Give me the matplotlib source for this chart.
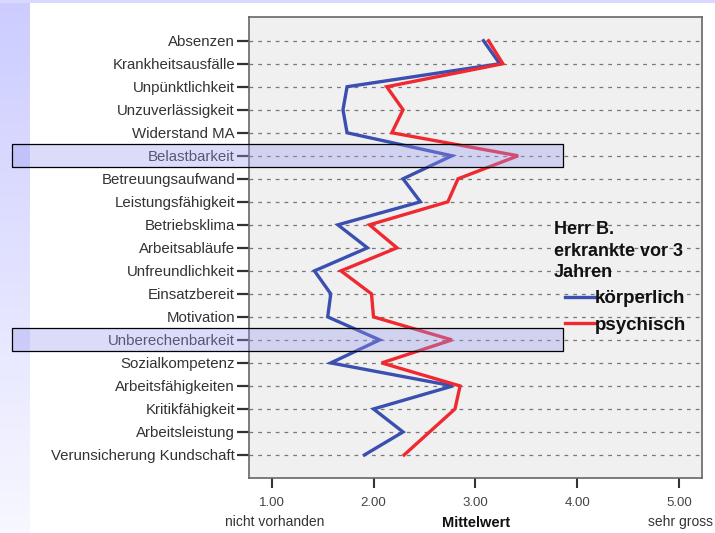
import numpy as np
import matplotlib
matplotlib.use("Agg")
import matplotlib.pyplot as plt
from matplotlib.patches import Rectangle
from matplotlib.transforms import blended_transform_factory

plt.rcParams['font.family'] = ['Liberation Sans', 'DejaVu Sans']

categories = ["Absenzen", "Krankheitsausfälle", "Unpünktlichkeit", "Unzuverlässigkeit",
              "Widerstand MA", "Belastbarkeit", "Betreuungsaufwand", "Leistungsfähigkeit",
              "Betriebsklima", "Arbeitsabläufe", "Unfreundlichkeit", "Einsatzbereit",
              "Motivation", "Unberechenbarkeit", "Sozialkompetenz", "Arbeitsfähigkeiten",
              "Kritikfähigkeit", "Arbeitsleistung", "Verunsicherung Kundschaft"]
koerperlich = [3.08, 3.24, 1.74, 1.70, 1.74, 2.77, 2.29, 2.46, 1.65, 1.94,
               1.42, 1.58, 1.55, 2.06, 1.58, 2.78, 2.00, 2.29, 1.91]
psychisch = [3.13, 3.27, 2.13, 2.29, 2.18, 3.42, 2.83, 2.73, 1.96, 2.23,
             1.68, 1.98, 2.00, 2.77, 2.08, 2.85, 2.80, 2.55, 2.30]
highlighted = ["Belastbarkeit", "Unberechenbarkeit"]
xticks = [1, 2, 3, 4, 5]
xticklabels = ["1.00", "2.00", "3.00", "4.00", "5.00"]
legend_title = "Herr B.\nerkrankte vor 3\nJahren"
series_names = ["körperlich", "psychisch"]

W, H = 715, 533
fig = plt.figure(figsize=(W / 100, H / 100), dpi=100)
fig.patch.set_facecolor("white")

# slide background: lavender strip on left and top
bg = fig.add_axes([0, 0, 1, 1], zorder=-10)
bg.set_axis_off()
grad = np.linspace(0, 1, 256)[:, None]
left_w = 30 / W
cols = np.zeros((256, 1, 3))
top_c = np.array([0.80, 0.80, 1.0])
bot_c = np.array([0.97, 0.97, 1.0])
for i in range(3):
    cols[:, 0, i] = top_c[i] + (bot_c[i] - top_c[i]) * grad[:, 0]
bg.imshow(cols, extent=[0, left_w, 0, 1], aspect='auto', origin='upper',
          transform=bg.transAxes)
bg.add_patch(Rectangle((0, 1 - 3 / H), 1, 3 / H, transform=bg.transAxes,
                       color=(0.85, 0.85, 1.0), lw=0))
bg.set_xlim(0, 1)
bg.set_ylim(0, 1)

ax = fig.add_axes([249 / W, 1 - 478 / H, (702 - 249) / W, (478 - 17) / H])
ax.set_facecolor("#F0F0F0")
y = np.arange(len(categories))

for yi in y:
    ax.axhline(yi, color="#777777", lw=0.9, ls=(0, (3, 4)), zorder=1)

l1, = ax.plot(koerperlich, y, color="#3A4FB0", lw=2.4, zorder=3, solid_joinstyle='miter')
l2, = ax.plot(psychisch, y, color="#F02830", lw=2.4, zorder=3, solid_joinstyle='miter')

ax.set_xlim(0.777, 5.226)
ax.set_ylim(len(categories) - 1 + 1.0, -1.03)
ax.set_yticks(y)
ax.set_yticklabels(categories, fontsize=10.8, color="#333333")
ax.set_xticks(xticks)
ax.set_xticklabels(xticklabels, fontsize=9.5, color="#444444")
ax.tick_params(axis='y', length=9, width=1.6, color="#333333", pad=1)
ax.tick_params(axis='x', length=7.5, width=1.5, color="#333333", pad=6)
for s in ax.spines.values():
    s.set_color("#666666")
    s.set_linewidth(1.2)

# highlight boxes
tr = blended_transform_factory(fig.transFigure, ax.transData)
for name in highlighted:
    idx = categories.index(name)
    ax.add_patch(Rectangle((12 / W, idx - 0.5), (563 - 12) / W, 1.0, transform=tr,
                           facecolor=(0.6, 0.6, 0.95, 0.35), edgecolor="black",
                           lw=0.9, clip_on=False, zorder=10))

# axis annotations
fig.text(275 / W, 1 - 522 / H, "nicht vorhanden", fontsize=10, color="#333333",
         ha='center', va='center')
fig.text(476 / W, 1 - 523 / H, "Mittelwert", fontsize=10.5, fontweight='bold',
         color="#111111", ha='center', va='center')
fig.text(648 / W, 1 - 522 / H, "sehr gross", fontsize=10, color="#333333",
         ha='left', va='center')

# legend
fig.text(554 / W, 1 - 251 / H, legend_title, fontsize=13, fontweight='bold',
         ha='left', va='center', linespacing=1.38, color="#111111")
leg = ax.legend([l1, l2], series_names, loc='upper left',
                bbox_to_anchor=(565 / W, 1 - 290 / H), bbox_transform=fig.transFigure,
                frameon=False, handlelength=1.6, handletextpad=0.0, borderpad=0,
                borderaxespad=0, labelspacing=0.5,
                prop={'size': 13.5, 'weight': 'bold'})
for t in leg.get_texts():
    t.set_color("#111111")

fig.savefig("out.png", dpi=100)
